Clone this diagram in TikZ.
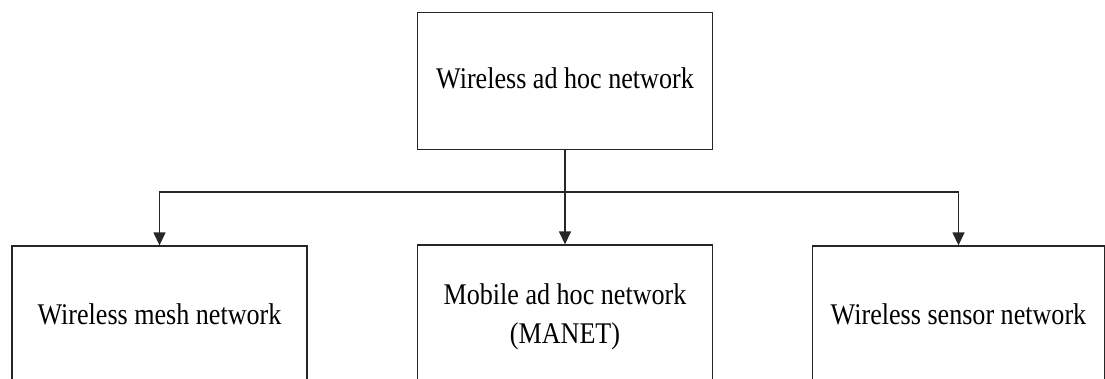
\documentclass[tikz,border=0pt]{standalone}
\usepackage{fontspec}
\setmainfont{Liberation Serif}
\usetikzlibrary{arrows.meta}
\tikzset{
  netbox/.style={draw=black!85, line width=1.3pt, rectangle, minimum width=295pt,
    minimum height=#1, align=center, inner sep=0pt,
    font=\fontsize{30}{39}\selectfont},
  link/.style={draw=black!85, line width=1.3pt, -{Triangle[length=13pt,width=12pt]}},
}
\newcommand{\boxtext}[1]{\scalebox{0.87}[1]{\begin{tabular}{@{}c@{}}#1\end{tabular}}}
\begin{document}
\begin{tikzpicture}[x=1pt,y=-1pt]
  \useasboundingbox (0,0) rectangle (1105,378);
  \clip (0,0) rectangle (1105,378);
  \node[netbox=137pt] (root) at (565,81) {\boxtext{Wireless ad hoc network}};
  \node[netbox=142pt] (mesh) at (159.5,317) {\boxtext{Wireless mesh network}};
  \node[netbox=142pt] (manet) at (565,316) {\boxtext{Mobile ad hoc network\\(MANET)}};
  \node[netbox=142pt, minimum width=292pt] (wsn) at (958.5,317) {\boxtext{Wireless sensor network}};
  \coordinate (j) at (565,192);
  \draw[link] (root.south) -- (manet.north);
  \draw[link] (j) -| (mesh.north);
  \draw[link] (j) -| (wsn.north);
\end{tikzpicture}
\end{document}
